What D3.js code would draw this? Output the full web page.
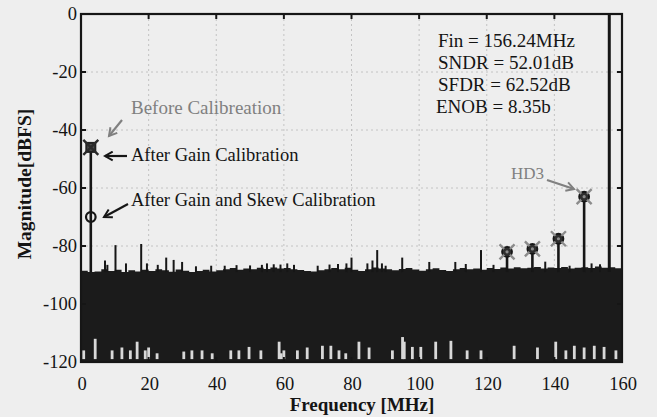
<!DOCTYPE html>
<html>
<head>
<meta charset="utf-8">
<script src="https://cdn.jsdelivr.net/npm/d3@7"></script>
<style>
  body { margin: 0; background: #eeeeee; }
  text { fill: #141414; }
</style>
</head>
<body>
<svg id="chart" width="657" height="417" font-family="'Liberation Serif', 'DejaVu Serif', serif"></svg>
<script>
// axis ticks
const xTicks = [0, 20, 40, 60, 80, 100, 120, 140, 160];
const yTicks = [0, -20, -40, -60, -80, -100, -120];

// top edge of the noise floor, one value every 2 MHz from 0 to 160 MHz
const floorStep = 2;
const floorTop = [
  -88.5, -89, -88.8, -88, -88.6, -88.2, -89, -88.4, -88.8, -88.2,
  -88.6, -88, -88.4, -88.9, -88.1, -88.5, -89, -88.6, -88.2, -88.8,
  -88.4, -88, -87.6, -88.2, -87.8, -88, -87.5, -87.9, -87.4, -87.8,
  -87.6, -88, -88.3, -88.6, -88.8, -88.4, -88, -87.6, -88, -87.5,
  -88.2, -88.6, -88, -87.4, -87.8, -88, -88.4, -87.9, -87.6, -88.1,
  -88.5, -88, -87.7, -88.3, -88.6, -88, -87.6, -88, -87.8, -88.2,
  -87.6, -87.9, -87.4, -87.8, -87.3, -87.7, -87.5, -87.2, -87.8, -87.4,
  -87.6, -87.2, -87.8, -87.5, -87.3, -87.6, -87.1, -87.5, -87.3, -87.7,
  -87.5
];

// low gaps at the bottom of the noise floor (freq MHz, top of gap dB)
const notchFreq = [0.8, 4.2, 9.2, 12.1, 14.6, 16.6, 19, 20, 22.5, 30.4, 32.8, 35.8, 38.8,
  44.3, 46.7, 49.7, 53.2, 58.6, 59.2, 60, 64, 66.9, 71.4, 73.9, 76.3, 78.3,
  82.2, 85.2, 92.1, 95.1, 95.6, 98, 100.5, 104.9, 109.4, 114.2, 118.3,
  128.1, 135, 140.4, 143.4, 145.9, 148.8, 151.8, 154.7, 158.2];
const notchDb = [-116, -112, -116, -115, -116, -113, -116, -115, -117, -116.4, -116, -116, -117,
  -116, -116, -114.8, -116, -113, -117, -116, -116, -115, -114.4, -114.4, -116, -117,
  -113, -115, -116, -111.4, -113, -114.8, -114.8, -113, -112.7, -116, -116,
  -114.4, -115, -113, -116, -114.4, -115, -114.4, -114.8, -116];

// small spurs standing above the floor
const spurFreq = [7.1, 7.8, 10.2, 13.3, 17.8, 19.5, 22.7, 25.2, 27.4, 29.9, 34, 38.5,
  42.5, 46, 50, 53.5, 55, 57, 59, 61, 63, 70, 73.5, 76, 78.5,
  80, 84.7, 86.2, 87.6, 89, 90.1, 95, 103, 110.7, 113.8, 118.3,
  122, 137.3, 144.5, 151, 153.5];
const spurDb = [-85, -86.5, -79.7, -86, -79.3, -86, -86.5, -84, -84.8, -85.5, -87, -86.8,
  -86.8, -86.6, -86.7, -86.5, -86, -86.3, -86.4, -86, -86.5, -86.8, -86.4, -86.2, -86,
  -84, -86, -85, -81.4, -86, -86.8, -84, -85.5, -85.5, -86.2, -81.4,
  -86.5, -85.4, -86.8, -86, -86.3];

// tones: interleaving spur, harmonics and the fundamental
const toneFreq = [2.9, 126, 133.5, 141.2, 148.8, 156.24];
const toneDb = [-46, -82, -81, -77.5, -63, 0];

// markers of the three calibration states
const beforeFreq = [2.9, 126, 133.5, 141.2, 148.8];
const beforeDb = [-46, -82, -81, -77.5, -63];
const gainFreq = [2.9];
const gainDb = [-46];
const skewFreq = [2.9, 126, 133.5, 141.2, 148.8];
const skewDb = [-70, -82, -81, -77.5, -63];

const statLines = ["Fin = 156.24MHz", "SNDR = 52.01dB", "SFDR = 62.52dB", "ENOB = 8.35b"];

const svg = d3.select("#chart");
const x = d3.scaleLinear().domain([0, 160]).range([81, 622]);
const y = d3.scaleLinear().domain([-120, 0]).range([362, 14]);
const bg = "#eeeeee";
const ink = "#161616";
const grey = "#808080";

svg.append("rect").attr("width", 657).attr("height", 417).attr("fill", bg);

// grid
svg.append("g").selectAll("line").data(xTicks.slice(1, -1)).enter().append("line")
  .attr("x1", d => x(d)).attr("x2", d => x(d)).attr("y1", y(0)).attr("y2", y(-120))
  .attr("stroke", "#b8b8b8").attr("stroke-width", 0.8).attr("stroke-dasharray", "2,3");
svg.append("g").selectAll("line").data(yTicks.slice(1, -1)).enter().append("line")
  .attr("x1", x(0)).attr("x2", x(160)).attr("y1", d => y(d)).attr("y2", d => y(d))
  .attr("stroke", "#b8b8b8").attr("stroke-width", 0.8).attr("stroke-dasharray", "2,3");

// noise floor band
const floorPts = floorTop.map((v, i) => ({ f: i * floorStep, v }));
const area = d3.area().curve(d3.curveStepAfter)
  .x(d => x(d.f)).y0(y(-120)).y1(d => y(d.v));
svg.append("path").datum(floorPts).attr("d", area).attr("fill", "#1b1b1b");

// gaps at the bottom of the floor
svg.append("g").selectAll("rect").data(notchFreq.map((f, i) => ({ f, v: notchDb[i] }))).enter()
  .append("rect")
  .attr("x", d => x(d.f) - 1.4).attr("width", 2.8)
  .attr("y", d => y(d.v)).attr("height", d => y(-119) - y(d.v))
  .attr("fill", "#d8d8d8");

// spurs
svg.append("g").selectAll("line").data(spurFreq.map((f, i) => ({ f, v: spurDb[i] }))).enter()
  .append("line")
  .attr("x1", d => x(d.f)).attr("x2", d => x(d.f))
  .attr("y1", y(-89)).attr("y2", d => y(d.v))
  .attr("stroke", ink).attr("stroke-width", 2);

// tones
svg.append("g").selectAll("line").data(toneFreq.map((f, i) => ({ f, v: toneDb[i] }))).enter()
  .append("line")
  .attr("x1", d => x(d.f)).attr("x2", d => x(d.f))
  .attr("y1", y(-89)).attr("y2", d => y(d.v))
  .attr("stroke", ink).attr("stroke-width", d => d.v === 0 ? 3 : 2.6);

// markers: after skew calibration (circle)
const skewPts = skewFreq.map((f, i) => ({ f, v: skewDb[i] }));
svg.append("g").selectAll("circle").data(skewPts).enter().append("circle")
  .attr("cx", d => x(d.f)).attr("cy", d => y(d.v)).attr("r", 4.8)
  .attr("fill", (d, i) => i === 0 ? "none" : "#3a3a3a")
  .attr("stroke", ink).attr("stroke-width", 2.2);

// markers: after gain calibration (square)
svg.append("g").selectAll("rect").data(gainFreq.map((f, i) => ({ f, v: gainDb[i] }))).enter()
  .append("rect")
  .attr("x", d => x(d.f) - 4.5).attr("y", d => y(d.v) - 4.5)
  .attr("width", 9).attr("height", 9)
  .attr("fill", "#4a4a4a").attr("stroke", "#222").attr("stroke-width", 2);

// markers: before calibration (x)
const xs = 7.5;
const beforeG = svg.append("g").selectAll("g").data(beforeFreq.map((f, i) => ({ f, v: beforeDb[i] })))
  .enter().append("g")
  .attr("transform", d => `translate(${x(d.f)},${y(d.v)})`);
beforeG.append("path")
  .attr("d", `M${-xs},${-xs}L${xs},${xs}M${-xs},${xs}L${xs},${-xs}`)
  .attr("stroke", (d, i) => i === 0 ? "#2a2a2a" : "#8c8c8c")
  .attr("stroke-width", 2.4).attr("fill", "none");
// centre of the harmonic markers
svg.append("g").selectAll("circle").data(skewPts.slice(1)).enter().append("circle")
  .attr("cx", d => x(d.f)).attr("cy", d => y(d.v)).attr("r", 4)
  .attr("fill", "#2e2e2e");
svg.append("g").selectAll("circle").data(skewPts.slice(1)).enter().append("circle")
  .attr("cx", d => x(d.f)).attr("cy", d => y(d.v)).attr("r", 1.6)
  .attr("fill", "#8a8a8a");

// frame
svg.append("rect")
  .attr("x", x(0)).attr("y", y(0)).attr("width", x(160) - x(0)).attr("height", y(-120) - y(0))
  .attr("fill", "none").attr("stroke", ink).attr("stroke-width", 2.2);

// ticks on all four sides
const tk = 5;
svg.append("g").selectAll("line").data(xTicks.slice(1, -1)).enter().append("line")
  .attr("x1", d => x(d)).attr("x2", d => x(d)).attr("y1", y(0)).attr("y2", y(0) + tk)
  .attr("stroke", ink).attr("stroke-width", 2);
svg.append("g").selectAll("line").data(xTicks.slice(1, -1)).enter().append("line")
  .attr("x1", d => x(d)).attr("x2", d => x(d)).attr("y1", y(-120)).attr("y2", y(-120) - tk)
  .attr("stroke", ink).attr("stroke-width", 2);
svg.append("g").selectAll("line").data(yTicks.slice(1, -1)).enter().append("line")
  .attr("x1", x(0)).attr("x2", x(0) + tk).attr("y1", d => y(d)).attr("y2", d => y(d))
  .attr("stroke", ink).attr("stroke-width", 2);
svg.append("g").selectAll("line").data(yTicks.slice(1, -1)).enter().append("line")
  .attr("x1", x(160)).attr("x2", x(160) - tk).attr("y1", d => y(d)).attr("y2", d => y(d))
  .attr("stroke", ink).attr("stroke-width", 2);

// tick labels
svg.append("g").selectAll("text").data(xTicks).enter().append("text")
  .attr("x", d => x(d) + 1).attr("y", 390)
  .attr("text-anchor", "middle").attr("font-size", 18.5).text(d => d);
svg.append("g").selectAll("text").data(yTicks).enter().append("text")
  .attr("x", 77).attr("y", d => y(d) + 6)
  .attr("text-anchor", "end").attr("font-size", 18.5).text(d => d);

// axis titles
svg.append("text").attr("x", 362).attr("y", 411).attr("text-anchor", "middle")
  .attr("font-size", 19).attr("font-weight", "bold").text("Frequency [MHz]");
svg.append("text").attr("transform", "translate(31,184) rotate(-90)")
  .attr("text-anchor", "middle").attr("font-size", 19.5).attr("font-weight", "bold")
  .text("Magnitude[dBFS]");

// stats block
svg.append("g").selectAll("text").data(statLines).enter().append("text")
  .attr("x", (d, i) => i === 3 ? 436 : 438).attr("y", (d, i) => 47 + i * 22)
  .attr("font-size", 19).text(d => d);

// annotations
const defs = svg.append("defs");
function head(id, color) {
  defs.append("marker").attr("id", id).attr("viewBox", "0 0 10 10")
    .attr("refX", 8).attr("refY", 5).attr("markerWidth", 5).attr("markerHeight", 5)
    .attr("orient", "auto")
    .append("path").attr("d", "M1,1L8,5L1,9").attr("fill", "none")
    .attr("stroke", color).attr("stroke-width", 1.8);
}
head("hg", grey);
head("hk", ink);

function arrow(x1, y1, x2, y2, color, id) {
  svg.append("line").attr("x1", x1).attr("y1", y1).attr("x2", x2).attr("y2", y2)
    .attr("stroke", color).attr("stroke-width", 2.2).attr("marker-end", `url(#${id})`);
}

svg.append("text").attr("x", 131).attr("y", 114).attr("font-size", 19)
  .style("fill", grey).text("Before Calibreation");
arrow(122, 120, 109, 136, grey, "hg");

svg.append("text").attr("x", 131).attr("y", 161).attr("font-size", 18.5).text("After Gain Calibration");
arrow(127, 156, 105, 156, ink, "hk");

svg.append("text").attr("x", 131).attr("y", 206).attr("font-size", 18.5).text("After Gain and Skew Calibration");
arrow(128, 204, 104, 217, ink, "hk");

svg.append("text").attr("x", 511).attr("y", 179).attr("font-size", 17)
  .style("fill", grey).text("HD3");
arrow(547, 180, 574, 189, grey, "hg");
</script>
</body>
</html>
